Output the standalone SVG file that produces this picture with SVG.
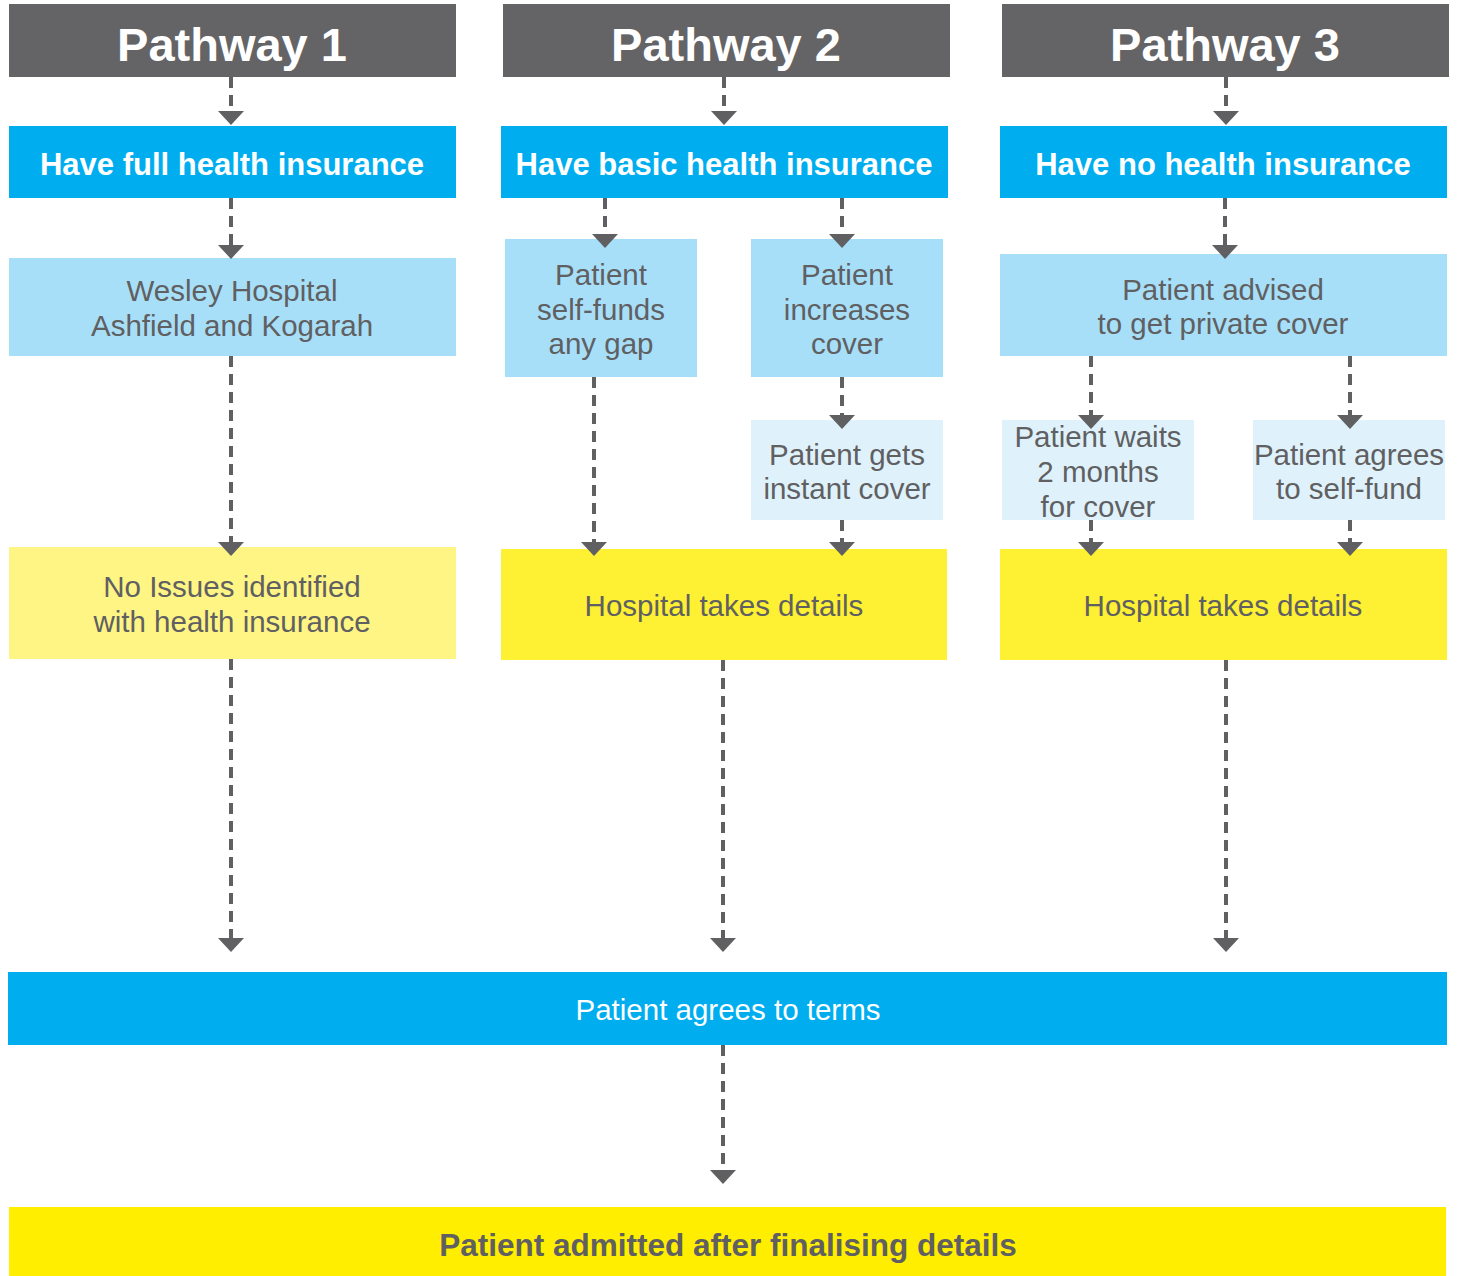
<svg xmlns="http://www.w3.org/2000/svg" width="1459" height="1276" viewBox="0 0 1459 1276">
<defs>
<style>
.hdr{fill:#646466}
.blue{fill:#00AEEF}
.lb{fill:#A8DFF8}
.pb{fill:#DFF2FB}
.ly{fill:#FFF584}
.yl{fill:#FEF032}
.fy{fill:#FFEE00}
text{font-family:"Liberation Sans",Arial,sans-serif;text-anchor:middle}
.th{font-size:47px;font-weight:bold;fill:#FFFFFF}
.tb{font-size:31px;font-weight:bold;fill:#FFFFFF}
.tg{font-size:29.5px;fill:#606062}
.tw{font-size:29.5px;fill:#FFFFFF}
.tf{font-size:31.5px;font-weight:bold;fill:#606062}
.con line{stroke:#606062;stroke-width:4;stroke-dasharray:11 7;marker-end:url(#ah)}
</style>
<marker id="ah" markerUnits="userSpaceOnUse" markerWidth="14" markerHeight="26" refX="0" refY="13" orient="auto" viewBox="0 0 14 26">
<path d="M0,0 L14,13 L0,26 Z" fill="#606062"/>
</marker>
</defs>
<rect width="1459" height="1276" fill="#FFFFFF"/>

<g id="p1-header"><rect class="hdr" x="9" y="4" width="447" height="73"/><text class="th" x="232" y="61">Pathway 1</text></g>
<g id="p2-header"><rect class="hdr" x="503" y="4" width="447" height="73"/><text class="th" x="726" y="61">Pathway 2</text></g>
<g id="p3-header"><rect class="hdr" x="1002" y="4" width="447" height="73"/><text class="th" x="1225" y="61">Pathway 3</text></g>

<g id="p1-full"><rect class="blue" x="9" y="126" width="447" height="72"/><text class="tb" x="232" y="175">Have full health insurance</text></g>
<g id="p2-basic"><rect class="blue" x="501" y="126" width="447" height="72"/><text class="tb" x="724" y="175">Have basic health insurance</text></g>
<g id="p3-none"><rect class="blue" x="1000" y="126" width="447" height="72"/><text class="tb" x="1223" y="175">Have no health insurance</text></g>

<g id="p1-wesley"><rect class="lb" x="9" y="258" width="447" height="98"/><text class="tg" x="232" y="301">Wesley Hospital</text><text class="tg" x="232" y="336">Ashfield and Kogarah</text></g>
<g id="p1-noissues"><rect class="ly" x="9" y="547" width="447" height="112"/><text class="tg" x="232" y="597">No Issues identified</text><text class="tg" x="232" y="632">with health insurance</text></g>

<g id="p2-selffunds"><rect class="lb" x="505" y="239" width="192" height="138"/><text class="tg" x="601" y="285">Patient</text><text class="tg" x="601" y="320">self-funds</text><text class="tg" x="601" y="354">any gap</text></g>
<g id="p2-increases"><rect class="lb" x="751" y="239" width="192" height="138"/><text class="tg" x="847" y="285">Patient</text><text class="tg" x="847" y="320">increases</text><text class="tg" x="847" y="354">cover</text></g>
<g id="p2-instant"><rect class="pb" x="751" y="420" width="192" height="100"/><text class="tg" x="847" y="465">Patient gets</text><text class="tg" x="847" y="499">instant cover</text></g>
<g id="p2-hospital"><rect class="yl" x="501" y="549" width="446" height="111"/><text class="tg" x="724" y="616">Hospital takes details</text></g>

<g id="p3-advised"><rect class="lb" x="1000" y="254" width="447" height="102"/><text class="tg" x="1223" y="300">Patient advised</text><text class="tg" x="1223" y="334">to get private cover</text></g>
<g id="p3-waits"><rect class="pb" x="1002" y="420" width="192" height="100"/><text class="tg" x="1098" y="447">Patient waits</text><text class="tg" x="1098" y="482">2 months</text><text class="tg" x="1098" y="517">for cover</text></g>
<g id="p3-selffund"><rect class="pb" x="1253" y="420" width="192" height="100"/><text class="tg" x="1349" y="465">Patient agrees</text><text class="tg" x="1349" y="499">to self-fund</text></g>
<g id="p3-hospital"><rect class="yl" x="1000" y="549" width="447" height="111"/><text class="tg" x="1223" y="616">Hospital takes details</text></g>

<g id="terms"><rect class="blue" x="8" y="972" width="1439" height="73"/><text class="tw" x="728" y="1020">Patient agrees to terms</text></g>
<g id="admitted"><rect class="fy" x="9" y="1207" width="1437" height="69"/><text class="tf" x="728" y="1256">Patient admitted after finalising details</text></g>

<g id="connectors" class="con">
<line x1="231" y1="77" x2="231" y2="111"/>
<line x1="724" y1="77" x2="724" y2="111"/>
<line x1="1226" y1="77" x2="1226" y2="111"/>
<line x1="231" y1="198" x2="231" y2="245"/>
<line x1="231" y1="356" x2="231" y2="542"/>
<line x1="231" y1="659" x2="231" y2="938"/>
<line x1="605" y1="198" x2="605" y2="234"/>
<line x1="842" y1="198" x2="842" y2="234"/>
<line x1="842" y1="377" x2="842" y2="415"/>
<line x1="594" y1="377" x2="594" y2="542"/>
<line x1="842" y1="520" x2="842" y2="542"/>
<line x1="723" y1="660" x2="723" y2="938"/>
<line x1="1225" y1="198" x2="1225" y2="245"/>
<line x1="1091" y1="356" x2="1091" y2="415"/>
<line x1="1350" y1="356" x2="1350" y2="415"/>
<line x1="1091" y1="520" x2="1091" y2="542"/>
<line x1="1350" y1="520" x2="1350" y2="542"/>
<line x1="1226" y1="660" x2="1226" y2="938"/>
<line x1="723" y1="1045" x2="723" y2="1170"/>
</g>
</svg>
